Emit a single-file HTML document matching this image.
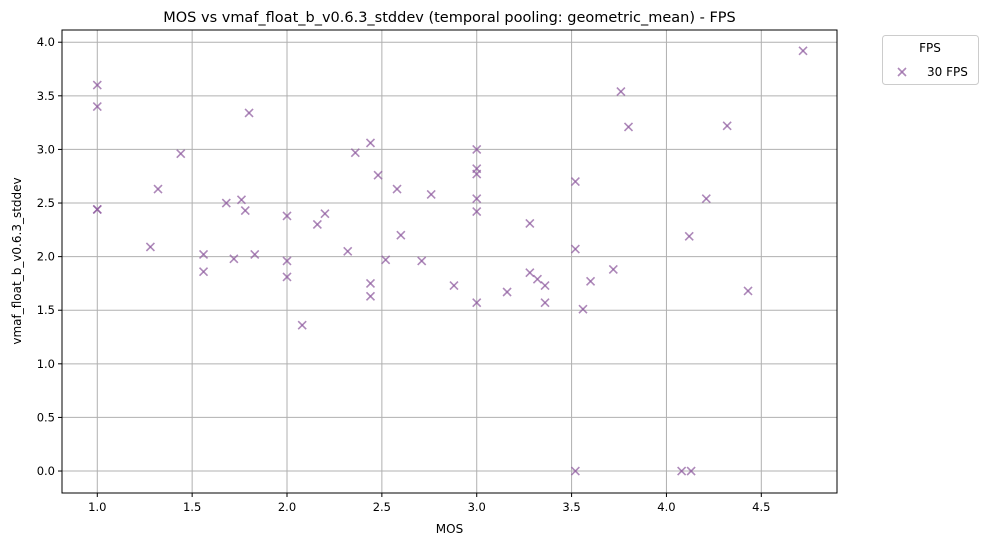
<!DOCTYPE html>
<html><head><meta charset="utf-8"><style>
body{margin:0;background:#fff;font-family:"Liberation Sans","DejaVu Sans",sans-serif;}
svg text{font-family:"DejaVu Sans","Liberation Sans",sans-serif;}
</style></head><body>
<svg id="chart" width="989" height="545" xmlns="http://www.w3.org/2000/svg">
<rect width="989" height="545" fill="#fff"/>
<g id="grid"></g><g id="pts"></g><g id="axes"></g>
<text x="449.5" y="22" text-anchor="middle" font-size="14.5" fill="#000">MOS vs vmaf_float_b_v0.6.3_stddev (temporal pooling: geometric_mean) - FPS</text>
<text x="449.5" y="533" text-anchor="middle" font-size="12" fill="#000">MOS</text>
<text transform="translate(21,261) rotate(-90)" text-anchor="middle" font-size="12" fill="#000">vmaf_float_b_v0.6.3_stddev</text>
<g>
<rect x="882.5" y="35.5" width="96" height="49" rx="3" fill="#fff" stroke="#ccc"/>
<text x="930" y="52" text-anchor="middle" font-size="12">FPS</text>
<g stroke="#9a6aa8" stroke-opacity="0.8" stroke-width="1.6"><line x1="898" y1="68" x2="906" y2="76"/><line x1="898" y1="76" x2="906" y2="68"/></g>
<text x="927" y="76" font-size="12">30 FPS</text>
</g>
</svg>
<script>
const mosValues=[1.0,1.0,1.0,1.0,1.28,1.32,1.44,1.56,1.56,1.68,1.72,1.76,1.78,1.80,1.83,2.0,2.0,2.0,2.08,2.16,2.2,2.32,2.36,2.44,2.44,2.44,2.48,2.52,2.58,2.6,2.71,2.76,2.88,3.0,3.0,3.0,3.0,3.0,3.0,3.16,3.28,3.28,3.32,3.36,3.36,3.52,3.52,3.52,3.56,3.6,3.72,3.76,3.8,4.08,4.12,4.13,4.21,4.32,4.43,4.72];
const stddevValues=[3.6,3.4,2.44,2.44,2.09,2.63,2.96,2.02,1.86,2.5,1.98,2.53,2.43,3.34,2.02,2.38,1.96,1.81,1.36,2.3,2.4,2.05,2.97,3.06,1.75,1.63,2.76,1.97,2.63,2.2,1.96,2.58,1.73,3.0,2.82,2.77,2.54,2.42,1.57,1.67,2.31,1.85,1.79,1.73,1.57,2.7,2.07,0.0,1.51,1.77,1.88,3.54,3.21,0.0,2.19,0.0,2.54,3.22,1.68,3.92];
const xTicks=[1.0,1.5,2.0,2.5,3.0,3.5,4.0,4.5];
const yTicks=[0.0,0.5,1.0,1.5,2.0,2.5,3.0,3.5,4.0];
const L=62,R=837,T=30,B=493;
const xMin=0.814,xMax=4.899,yMin=-0.205,yMax=4.114;
const xs=v=>L+(v-xMin)/(xMax-xMin)*(R-L);
const ys=v=>B-(v-yMin)/(yMax-yMin)*(B-T);
const NS="http://www.w3.org/2000/svg";
function mk(tag,attrs,parent){const e=document.createElementNS(NS,tag);for(const k in attrs)e.setAttribute(k,attrs[k]);parent.appendChild(e);return e;}
const grid=document.getElementById('grid'),axes=document.getElementById('axes'),pts=document.getElementById('pts');
xTicks.forEach(t=>{const x=xs(t);
const g=mk('line',{x1:x,x2:x,y1:T,y2:B,stroke:'#b0b0b0','stroke-width':1},grid);


mk('line',{x1:x,x2:x,y1:B,y2:B+4,stroke:'#000'},axes);
const tx=mk('text',{x:x,y:B+18,'text-anchor':'middle','font-size':11.5},axes);tx.textContent=t.toFixed(1);

});
yTicks.forEach(t=>{const y=ys(t);
const g=mk('line',{x1:L,x2:R,y1:y,y2:y,stroke:'#b0b0b0','stroke-width':1},grid);


mk('line',{x1:L-4,x2:L,y1:y,y2:y,stroke:'#000'},axes);
const tx=mk('text',{x:L-7,y:y+4,'text-anchor':'end','font-size':11.5},axes);tx.textContent=t.toFixed(1);

});
const frame=mk('rect',{x:L,y:T,width:R-L,height:B-T,fill:'none',stroke:'#000','stroke-width':1},axes);


mosValues.forEach((m,i)=>{const x=xs(m),y=ys(stddevValues[i]),s=4;
const g=mk('g',{stroke:'#8e5a9e','stroke-opacity':0.72,'stroke-width':1.6},pts);


mk('line',{x1:x-s,y1:y-s,x2:x+s,y2:y+s},g);mk('line',{x1:x-s,y1:y+s,x2:x+s,y2:y-s},g);});
</script>
</body></html>
